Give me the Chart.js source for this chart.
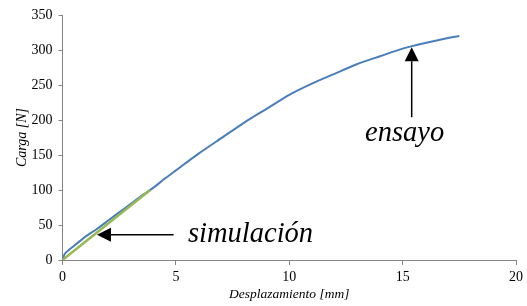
<!DOCTYPE html>
<html>
<head>
<meta charset="utf-8">
<script src="https://cdn.jsdelivr.net/npm/chart.js@4"></script>
<style>
  html, body { margin: 0; padding: 0; background: #fff; }
  #box { width: 527px; height: 306px; }
</style>
</head>
<body>
<div id="box"><canvas id="chart"></canvas></div>
<script>
// ensayo (test curve)
const ensayoX = [0, 0.1, 0.3, 0.5, 1, 1.5, 2, 2.5, 3, 3.5, 4, 4.5, 5, 6, 7, 8, 9, 10, 11, 12, 13, 14, 15, 16, 17, 17.5];
const ensayoY = [0, 9, 15, 20, 33, 44, 56, 68, 80, 92, 103, 116, 128, 152, 174, 196, 216, 236, 252, 266, 280, 291, 302, 310, 317, 320];
// simulación (straight line)
const simX = [0, 3.87];
const simY = [0, 100];
const xTicks = [0, 5, 10, 15, 20];
const yTicks = [0, 50, 100, 150, 200, 250, 300, 350];

const serif = "'Liberation Serif', 'Times New Roman', serif";

function pts(xs, ys) {
  return xs.map((x, i) => ({ x: x, y: ys[i] }));
}

// arrows + labels, placed in data units
const notes = [
  { text: "simulación", from: [4.9, 36], to: [1.52, 36], tx: 188, ty: 242 },
  { text: "ensayo", from: [15.4, 204], to: [15.4, 304], tx: 365, ty: 141 },
];

const arrowPlugin = {
  id: "arrows",
  afterDatasetsDraw(chart) {
    const c = chart.ctx, xs = chart.scales.x, ys = chart.scales.y;
    c.save();
    notes.forEach(n => {
      const x1 = xs.getPixelForValue(n.from[0]), y1 = ys.getPixelForValue(n.from[1]);
      const x2 = xs.getPixelForValue(n.to[0]), y2 = ys.getPixelForValue(n.to[1]);
      const a = Math.atan2(y2 - y1, x2 - x1);
      const hl = 14, hw = 7;
      const bx = x2 - hl * Math.cos(a), by = y2 - hl * Math.sin(a);
      c.strokeStyle = "#000";
      c.lineWidth = 1.5;
      c.beginPath();
      c.moveTo(x1, y1);
      c.lineTo(bx, by);
      c.stroke();
      c.fillStyle = "#000";
      c.beginPath();
      c.moveTo(x2, y2);
      c.lineTo(bx + hw * Math.sin(a), by - hw * Math.cos(a));
      c.lineTo(bx - hw * Math.sin(a), by + hw * Math.cos(a));
      c.closePath();
      c.fill();
      c.font = "italic 28.5px " + serif;
      c.textBaseline = "alphabetic";
      c.textAlign = "left";
      c.fillText(n.text, n.tx, n.ty);
    });
    c.restore();
  }
};

new Chart(document.getElementById("chart").getContext("2d"), {
  type: "scatter",
  data: {
    datasets: [
      {
        label: "simulación",
        data: pts(simX, simY),
        showLine: true,
        borderColor: "rgb(152,185,84)",
        borderWidth: 2.5,
        pointRadius: 0,
      },
      {
        label: "ensayo",
        data: pts(ensayoX, ensayoY),
        showLine: true,
        borderColor: "rgb(74,126,187)",
        borderWidth: 2,
        pointRadius: 0,
        tension: 0.2,
      },
    ],
  },
  options: {
    responsive: true,
    maintainAspectRatio: false,
    animation: false,
    layout: { padding: { left: 10, right: 8, top: 15, bottom: 0 } },
    plugins: { legend: { display: false }, tooltip: { enabled: false } },
    scales: {
      x: {
        type: "linear",
        min: 0,
        max: 20,
        afterBuildTicks: s => { s.ticks = xTicks.map(v => ({ value: v })); },
        afterFit: s => { s.height = 46; },
        grid: { drawOnChartArea: false, color: "#868686", tickLength: 5 },
        border: { color: "#868686", width: 1 },
        ticks: { color: "#000", padding: 4, maxRotation: 0, font: { family: serif, size: 14 } },
        title: { display: true, text: "Desplazamiento [mm]", color: "#000", padding: { top: 0, bottom: 3 }, font: { family: serif, size: 13.5, style: "italic" } },
      },
      y: {
        min: 0,
        max: 350,
        afterBuildTicks: s => { s.ticks = yTicks.map(v => ({ value: v })); },
        afterFit: s => { s.width = 52.5; },
        grid: { drawOnChartArea: false, color: "#868686", tickLength: 4 },
        border: { color: "#868686", width: 1 },
        ticks: { color: "#000", padding: 6, font: { family: serif, size: 14 } },
        title: { display: true, text: "Carga [N]", color: "#000", padding: { top: 4, bottom: 0 }, font: { family: serif, size: 14, style: "italic" } },
      },
    },
  },
  plugins: [arrowPlugin],
});
</script>
</body>
</html>
